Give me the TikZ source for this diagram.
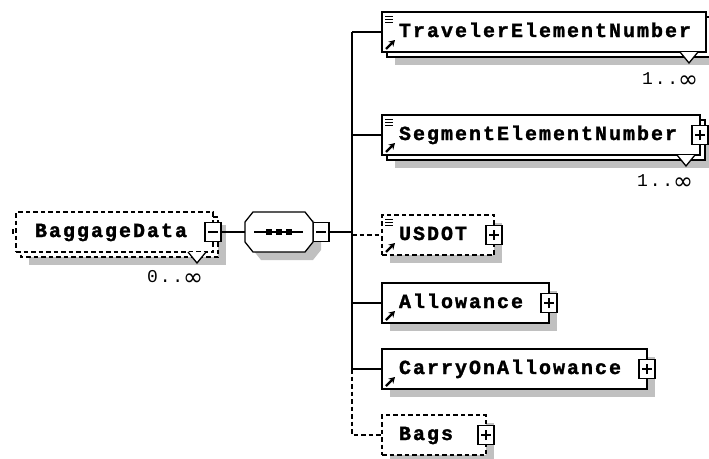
\documentclass[tikz,border=0pt]{standalone}
\usepackage{fontspec}
\newfontfamily\elfont[LetterSpace=10, BoldFeatures={FakeBold=1.6}]{Liberation Mono}
\newfontfamily\symfont{DejaVu Sans}
\usetikzlibrary{backgrounds,arrows.meta}
\definecolor{shadowgray}{RGB}{192,192,192}
\newcommand{\infsym}{\raisebox{-3pt}{\symfont\fontsize{24}{24}\selectfont ∞}}
\begin{document}
\begin{tikzpicture}[x=1pt,y=-1pt,
  box/.style={draw, fill=white, line width=1.3pt, minimum height=40pt, inner xsep=17pt, inner ysep=0pt,
    outer sep=0pt, align=left, anchor=north west, text height=14pt, text depth=4pt,
    font=\elfont\bfseries\fontsize{20}{20}\selectfont},
  optbox/.style={box, dash pattern=on 4.5pt off 3pt},
  pm/.style={draw, fill=white, solid, line width=1.3pt, minimum width=16pt, minimum height=19pt, inner sep=0pt, outer sep=0pt},
  plusbox/.style={pm, path picture={\draw[line width=1.3pt]
      ([xshift=-5pt]path picture bounding box.center) -- ([xshift=5pt]path picture bounding box.center)
      ([yshift=-5pt]path picture bounding box.center) -- ([yshift=5pt]path picture bounding box.center);}},
  minusbox/.style={pm, path picture={\draw[line width=1.3pt]
      ([xshift=-5pt]path picture bounding box.center) -- ([xshift=5pt]path picture bounding box.center);}},
  con/.style={line width=1.3pt},
  optcon/.style={line width=1.3pt, dash pattern=on 4.5pt off 3pt},
  shad/.style={fill=shadowgray},
  mult/.style={anchor=west, inner sep=0pt, font=\elfont\fontsize{18}{18}\selectfont},
  icon/.style={line width=1pt},
  arr/.style={line width=2.2pt, -{Stealth[length=6pt,width=7pt]}}
]
\useasboundingbox (0,0) rectangle (709,458);

% ---------- nodes ----------
\node[optbox, text width=159pt, inner xsep=19pt] (bd) at (16,212) {BaggageData};
\node[minusbox] (bdpm) at (bd.east) {};
\node[minimum width=68pt, minimum height=40pt, inner sep=0pt, outer sep=0pt] (seq) at (279,232) {};
\node[minusbox, anchor=west] (seqpm) at (seq.east) {};
\coordinate (j) at (352,232);

\node[box, text width=290pt] (trav) at (382,12) {TravelerElementNumber};
\node[box, text width=284pt] (seg) at (382,115) {SegmentElementNumber};
\node[plusbox] (segpm) at (seg.east) {};
\node[optbox, text width=78pt] (usdot) at (382,215) {USDOT};
\node[plusbox] (usdotpm) at (usdot.east) {};
\node[box, text width=133pt] (allow) at (382,283) {Allowance};
\node[plusbox] (allowpm) at (allow.east) {};
\node[box, text width=231pt] (carry) at (382,349) {CarryOnAllowance};
\node[plusbox] (carrypm) at (carry.east) {};
\node[optbox, text width=70pt] (bags) at (382,415) {Bags};
\node[plusbox] (bagspm) at (bags.east) {};

% ---------- shadows and back frames ----------
\begin{pgfonlayer}{background}
  \fill[shad] ([shift={(13,13)}]bd.north west) rectangle ([shift={(13,13)}]bd.south east);
  \draw[optcon, fill=white] ([shift={(5,5)}]bd.north west) rectangle ([shift={(5,5)}]bd.south east);
  \fill[shad] ([shift={(8,8)}]seq.north west) ++(8,0) -- ++(52,0) -- ++(8,10) -- ++(0,20) -- ++(-8,10)
     -- ++(-52,0) -- ++(-8,-10) -- ++(0,-20) -- cycle;
  \fill[shad] ([shift={(13,13)}]trav.north west) rectangle ([shift={(13,13)}]trav.south east);
  \draw[con, fill=white] ([shift={(5,5)}]trav.north west) rectangle ([shift={(5,5)}]trav.south east);
  \fill[shad] ([shift={(13,13)}]seg.north west) rectangle ([shift={(13,13)}]seg.south east);
  \draw[con, fill=white] ([shift={(5,5)}]seg.north west) rectangle ([shift={(5,5)}]seg.south east);
  \fill[shad] ([shift={(8,8)}]usdot.north west) rectangle ([shift={(8,8)}]usdot.south east);
  \fill[shad] ([shift={(8,8)}]allow.north west) rectangle ([shift={(8,8)}]allow.south east);
  \fill[shad] ([shift={(8,8)}]carry.north west) rectangle ([shift={(8,8)}]carry.south east);
  \fill[shad] ([shift={(8,8)}]bags.north west) rectangle ([shift={(8,8)}]bags.south east);
\end{pgfonlayer}

% ---------- sequence compositor ----------
\draw[con, fill=white] (seq.north west) ++(8,0) -- ++(52,0) -- ++(8,10) -- ++(0,20) -- ++(-8,10)
   -- ++(-52,0) -- ++(-8,-10) -- ++(0,-20) -- cycle;
\draw[con] ([xshift=-25pt]seq.center) -- ([xshift=24pt]seq.center);
\foreach \dx in {-10,0,10} {\fill ([xshift=\dx pt]seq.center) +(-3,-3) rectangle +(3,3);}

% ---------- occurrence markers ----------
\draw[con, fill=white] ([shift={(-25,0)}]bd.south east) -- ([shift={(-16,11)}]bd.south east) -- ([shift={(-7,0)}]bd.south east);
\draw[con, fill=white] ([shift={(-26,0)}]trav.south east) -- ([shift={(-17,11)}]trav.south east) -- ([shift={(-8,0)}]trav.south east);
\draw[con, fill=white] ([shift={(-23,0)}]seg.south east) -- ([shift={(-14,11)}]seg.south east) -- ([shift={(-5,0)}]seg.south east);
\node[mult] (bdm) at (147,278) {0..\infsym};
\node[mult] (travm) at (642,80) {1..\infsym};
\node[mult] (segm) at (637,182) {1..\infsym};

% ---------- icons ----------
\foreach \n in {trav,seg,usdot} {
  \foreach \dy in {4,7,10} {\draw[icon] ([shift={(3,\dy)}]\n.north west) -- ([shift={(11,\dy)}]\n.north west);}
}
\foreach \n in {trav,seg,usdot,allow,carry} {
  \draw[arr] ([shift={(4,-3)}]\n.south west) -- ([shift={(13,-12)}]\n.south west);
}

% ---------- connectors ----------
\draw[con] ([shift={(-3,-3)}]bd.west) -- ([shift={(-3,2)}]bd.west);
\draw[con] (bdpm.east) -- (seq.west);
\draw[con] (seqpm.east) -- (j);
\draw[con] (trav.west -| j) -- (carry.west -| j);
\draw[con] (trav.west -| j) -- (trav.west);
\draw[con] (seg.west -| j) -- (seg.west);
\draw[optcon] (usdot.west -| j) -- (usdot.west);
\draw[con] (allow.west -| j) -- (allow.west);
\draw[con] (carry.west -| j) -- (carry.west);
\draw[optcon] (carry.west -| j) -- (bags.west -| j) -- (bags.west);
\end{tikzpicture}
\end{document}
